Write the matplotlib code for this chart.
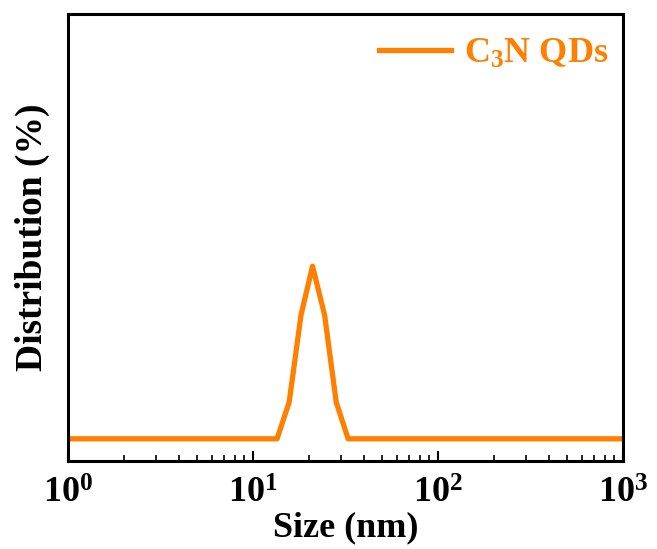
import matplotlib
matplotlib.use('Agg')
import matplotlib.pyplot as plt
from matplotlib.ticker import LogLocator, LogFormatterMathtext, NullFormatter

# DLS size distribution
size_nm = [1.0, 13.5, 15.7, 18.2, 21.0, 24.4, 28.2, 32.7, 1000.0]
dist_pct = [0.0, 0.0, 8.2, 27.7, 38.6, 27.7, 8.2, 0.0, 0.0]
series_label = 'C$_3$N QDs'
line_color = '#FF7F00'

plt.rcParams['font.family'] = 'Liberation Serif'
plt.rcParams['font.weight'] = 'bold'
plt.rcParams['mathtext.fontset'] = 'custom'
plt.rcParams['mathtext.rm'] = 'Liberation Serif:bold'
plt.rcParams['mathtext.it'] = 'Liberation Serif:bold'
plt.rcParams['mathtext.bf'] = 'Liberation Serif:bold'

fig = plt.figure(figsize=(6.57, 5.49), dpi=100)
ax = fig.add_axes([0.1035, 0.160, 0.8445, 0.8145])

ax.plot(size_nm, dist_pct, color=line_color, linewidth=3.8, label=series_label)

ax.set_xscale('log')
ax.set_xlim(1, 1000)
ax.set_ylim(-5, 95)
ax.set_yticks([])

ax.xaxis.set_major_locator(LogLocator(base=10))
ax.xaxis.set_major_formatter(LogFormatterMathtext())
ax.xaxis.set_minor_locator(LogLocator(base=10, subs=range(2, 10)))
ax.xaxis.set_minor_formatter(NullFormatter())
ax.tick_params(axis='x', which='major', direction='in', length=7, width=1.5,
               labelsize=26, pad=12)
ax.tick_params(axis='x', which='minor', direction='in', length=4, width=1.2)
for s in ax.spines.values():
    s.set_linewidth(2.2)

ax.set_xlabel('Size (nm)', fontsize=26, fontweight='bold', labelpad=0)
ax.set_ylabel('Distribution (%)', fontsize=27, fontweight='bold', labelpad=13)

leg = ax.legend(loc='upper right', bbox_to_anchor=(1.0, 0.98), frameon=False,
                fontsize=26, handlelength=2.0, handletextpad=0.35,
                borderaxespad=0.0)
for t in leg.get_texts():
    t.set_color(line_color)

fig.savefig('out.png', dpi=100)
